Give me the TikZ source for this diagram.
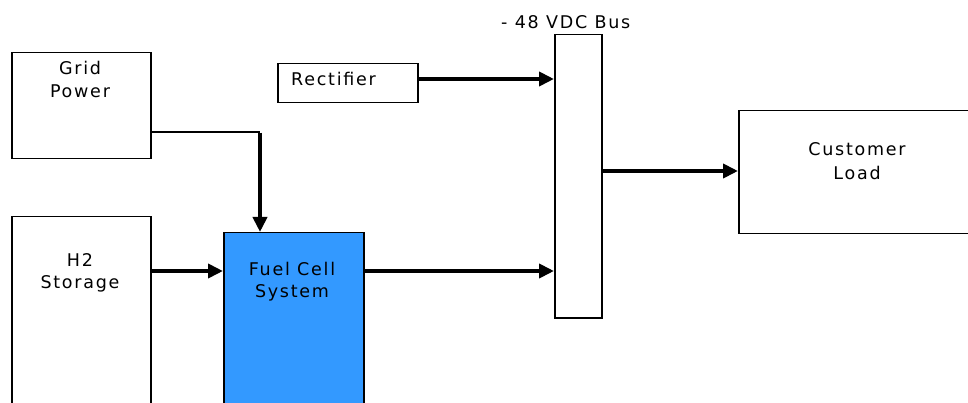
\documentclass[tikz,border=0pt]{standalone}
\usepackage{fontspec}
\setmainfont{DejaVu Sans}[LetterSpace=10]
\usetikzlibrary{arrows.meta}
\definecolor{fcblue}{RGB}{51,153,255}
\begin{document}
\begin{tikzpicture}[x=1pt,y=-1pt,
  box/.style={draw, line width=1.5pt, inner sep=0pt, anchor=north west},
  lbl/.style={font=\fontsize{17.5}{23}\selectfont, anchor=base, inner sep=0pt},
  arr/.style={line width=4.5pt, -{Triangle[length=15pt,width=14pt]}},
  thinline/.style={line width=1.5pt}]
\useasboundingbox (0,0) rectangle (968,403);
\begin{scope}
\clip (0,0) rectangle (968,403);
% boxes
\node[box, minimum width=139pt, minimum height=106pt] (grid) at (11,52) {};
\node[box, minimum width=139pt, minimum height=210pt] (h2) at (11,216) {};
\node[box, fill=fcblue, minimum width=140pt, minimum height=190pt] (fc) at (223,232) {};
\node[box, minimum width=140pt, minimum height=39pt] (rect) at (277,63) {};
\node[box, minimum width=47pt, minimum height=283pt] (bus) at (554,34) {};
\node[box, minimum width=245pt, minimum height=123pt] (load) at (738,110) {};
% labels
\node[lbl] (gridA) at (80,75) {Grid};
\node[lbl] (gridB) at (80,98) {Power};
\node[lbl] (h2A) at (80,266) {H2};
\node[lbl] (h2B) at (80,288) {Storage};
\node[lbl] (fcA) at (292,275) {Fuel Cell};
\node[lbl] (fcB) at (292,297) {System};
\node[lbl, anchor=base west] (rectA) at (291,86) {Rectifier};
\node[lbl, anchor=base west] (busA) at (501,29) {- 48 VDC Bus};
\node[lbl] (loadA) at (857,156) {Customer};
\node[lbl] (loadB) at (857,180) {Load};
% connector coordinates
\coordinate (gc) at (260,132);
\coordinate (yh2) at (0,271);
\coordinate (yrect) at (0,79);
\coordinate (yload) at (0,171);
% connectors
\draw[thinline] (grid.east |- gc) -- (gc);
\draw[arr] ([yshift=-0.75pt]gc) -- (gc |- fc.north);
\draw[arr] (h2.east |- yh2) -- (fc.west |- yh2);
\draw[arr] (fc.east |- yh2) -- (bus.west |- yh2);
\draw[arr] (rect.east |- yrect) -- (bus.west |- yrect);
\draw[arr] (bus.east |- yload) -- (load.west |- yload);
\end{scope}
\end{tikzpicture}
\end{document}
